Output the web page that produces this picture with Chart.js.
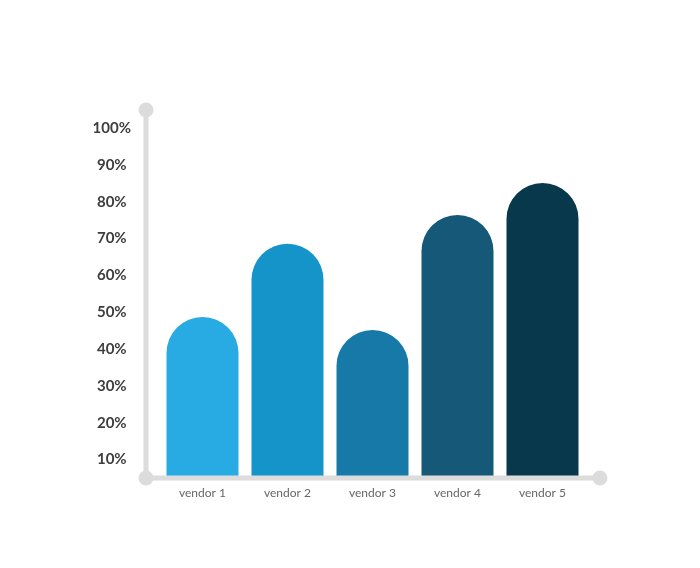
<!DOCTYPE html>
<html>
<head>
<meta charset="utf-8">
<script src="https://cdn.jsdelivr.net/npm/chart.js@4"></script>
<style>
  html, body { margin: 0; padding: 0; background: #fff; }
  #wrap { width: 700px; height: 568px; }
</style>
</head>
<body>
<div id="wrap"><canvas id="myChart" width="700" height="568"></canvas></div>
<script>
// --- DONNÉES ---
const vendors = ['vendor 1', 'vendor 2', 'vendor 3', 'vendor 4', 'vendor 5'];
const shares = [48.7, 68.6, 45.2, 76.4, 85.1];
const barColors = ['#27abe2', '#1594c9', '#1679a7', '#165877', '#08384b'];
const yTicks = [10, 20, 30, 40, 50, 60, 70, 80, 90, 100];

const AXIS = '#dcdcdc';

// axes gris avec les petits ronds aux extrémités
const axisDeco = {
  id: 'axisDeco',
  afterDatasetsDraw(chart) {
    const { ctx, chartArea: a } = chart;
    const x0 = a.left - 14, x1 = a.right + 15, y0 = a.top - 18, y1 = a.bottom;
    ctx.save();
    ctx.strokeStyle = AXIS;
    ctx.lineWidth = 5;
    ctx.beginPath();
    ctx.moveTo(x0, y0); ctx.lineTo(x0, y1); ctx.lineTo(x1, y1);
    ctx.stroke();
    ctx.fillStyle = AXIS;
    [[x0, y0], [x0, y1], [x1, y1]].forEach(([x, y]) => {
      ctx.beginPath();
      ctx.arc(x, y, 7.5, 0, Math.PI * 2);
      ctx.fill();
    });
    ctx.restore();
  }
};

new Chart(document.getElementById('myChart'), {
  type: 'bar',
  data: {
    labels: vendors,
    datasets: [{
      data: shares,
      backgroundColor: barColors,
      borderWidth: 0,
      borderSkipped: 'bottom',
      borderRadius: { topLeft: 36, topRight: 36, bottomLeft: 0, bottomRight: 0 },
      categoryPercentage: 1,
      barPercentage: 0.847
    }]
  },
  options: {
    responsive: false,
    animation: false,
    layout: { padding: { top: 128, right: 115, bottom: 50, left: 0 } },
    plugins: { legend: { display: false }, tooltip: { enabled: false } },
    scales: {
      x: {
        grid: { display: false, drawTicks: false },
        border: { display: false },
        afterFit: (s) => { s.height = 40; },
        ticks: {
          padding: 8,
          color: '#666',
          font: { family: 'Lato', size: 12 }
        }
      },
      y: {
        min: 5,
        max: 100,
        grid: { display: false, drawTicks: false },
        border: { display: false },
        afterFit: (s) => { s.width = 160; },
        afterBuildTicks: (s) => { s.ticks = yTicks.map(v => ({ value: v })); },
        ticks: {
          padding: 29,
          crossAlign: 'center',
          color: '#3d3d3d',
          font: { family: 'Lato', size: 15, weight: 'bold' },
          callback: (v) => v + '%'
        }
      }
    }
  },
  plugins: [axisDeco]
});
</script>
</body>
</html>
